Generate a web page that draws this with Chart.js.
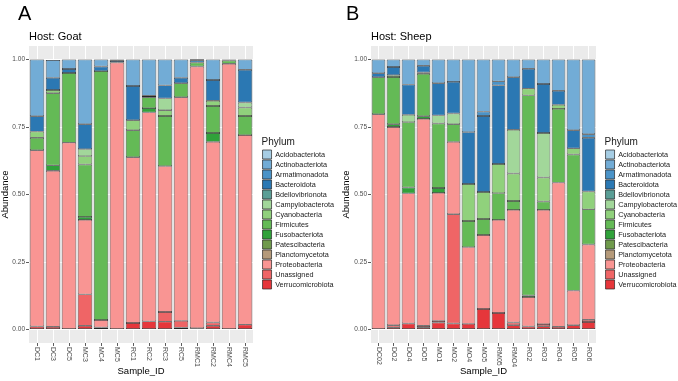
<!DOCTYPE html>
<html>
<head>
<meta charset="utf-8">
<script src="https://cdn.jsdelivr.net/npm/chart.js@4.4.1/dist/chart.umd.min.js"></script>
<style>
  body { margin: 0; background: #fff; overflow: hidden; }
  #wrap { position: relative; width: 678px; height: 381px; }
  canvas { position: absolute; top: 0; }
</style>
</head>
<body>
<div id="wrap">
  <canvas id="goatChart" width="344" height="381" style="left:0"></canvas>
  <canvas id="sheepChart" width="346" height="381" style="left:341px"></canvas>
</div>
<script>
const phyla = ["Acidobacteriota", "Actinobacteriota", "Armatimonadota", "Bacteroidota",
  "Bdellovibrionota", "Campylobacterota", "Cyanobacteria", "Firmicutes", "Fusobacteriota",
  "Patescibacteria", "Planctomycetota", "Proteobacteria", "Unassigned", "Verrucomicrobiota"];
const phylumColors = ["#a6cde4", "#72acd6", "#4a93c8", "#2b78b3", "#5a9e96", "#a2d79a",
  "#90d17c", "#64ba56", "#30a23a", "#6f9a4c", "#b59a7a", "#f99593", "#ef6566", "#e6363b"];
const yTicks = [0, 0.25, 0.5, 0.75, 1];

const goatSamples = ["DC1", "DC3", "DC5", "MC3", "MC4", "MC5", "RC1", "RC2", "RC3", "RC5", "RMC1", "RMC2", "RMC4", "RMC5"];
const goatAcidobacteriota = [0, 0, 0, 0, 0, 0, 0, 0, 0, 0, 0, 0, 0, 0];
const goatActinobacteriota = [0.21, 0.066, 0.035, 0.24, 0.026, 0.005, 0.098, 0.134, 0.096, 0.068, 0.004, 0.076, 0, 0.038];
const goatArmatimonadota = [0, 0, 0, 0, 0, 0, 0, 0, 0, 0, 0, 0, 0, 0];
const goatBacteroidota = [0.057, 0.045, 0.015, 0.092, 0.017, 0.006, 0.127, 0.006, 0.048, 0.02, 0.008, 0.077, 0.004, 0.121];
const goatBdellovibrionota = [0, 0, 0, 0, 0, 0, 0, 0, 0, 0, 0, 0, 0, 0];
const goatCampylobacterota = [0, 0, 0, 0.026, 0, 0, 0, 0, 0.044, 0, 0, 0, 0, 0.019];
const goatCyanobacteria = [0.023, 0.012, 0, 0.031, 0, 0, 0.037, 0, 0.021, 0, 0, 0.019, 0, 0.031];
const goatFirmicutes = [0.046, 0.267, 0.258, 0.194, 0.922, 0, 0.1, 0.04, 0.186, 0.052, 0.015, 0.1, 0.012, 0.071];
const goatFusobacteriota = [0, 0.02, 0, 0.011, 0, 0, 0, 0.016, 0, 0, 0, 0.033, 0, 0];
const goatPatescibacteria = [0, 0, 0, 0, 0, 0, 0, 0, 0, 0, 0, 0, 0, 0];
const goatPlanctomycetota = [0, 0, 0, 0, 0, 0, 0, 0, 0, 0, 0, 0, 0, 0];
const goatProteobacteria = [0.653, 0.578, 0.69, 0.276, 0.0275, 0.989, 0.614, 0.774, 0.54, 0.828, 0.969, 0.669, 0.984, 0.702];
const goatUnassigned = [0, 0, 0, 0.116, 0, 0, 0, 0, 0.036, 0.025, 0, 0.012, 0, 0];
const goatVerrucomicrobiota = [0.011, 0.01, 0.002, 0.014, 0.0075, 0, 0.024, 0.03, 0.029, 0.007, 0.005, 0.014, 0, 0.018];

const sheepSamples = ["DC02", "DO2", "DO4", "DO5", "MO1", "MO2", "MO4", "MO5", "RM05", "RMO4", "RO2", "RO3", "RO4", "RO5", "RO6"];
const sheepAcidobacteriota = [0, 0, 0, 0, 0, 0, 0, 0, 0, 0, 0, 0, 0, 0, 0];
const sheepActinobacteriota = [0.051, 0.028, 0.093, 0.023, 0.088, 0.083, 0.269, 0.193, 0.081, 0.066, 0.034, 0.091, 0.116, 0.262, 0.277];
const sheepArmatimonadota = [0, 0, 0, 0, 0, 0, 0, 0.016, 0.015, 0, 0, 0, 0, 0, 0.013];
const sheepBacteroidota = [0.015, 0.03, 0.112, 0.025, 0.119, 0.117, 0.192, 0.282, 0.291, 0.194, 0.074, 0.181, 0.052, 0.067, 0.199];
const sheepBdellovibrionota = [0, 0, 0, 0, 0, 0, 0, 0, 0, 0, 0, 0, 0, 0, 0];
const sheepCampylobacterota = [0, 0, 0.027, 0, 0.03, 0.04, 0, 0, 0, 0.162, 0, 0.165, 0, 0, 0];
const sheepCyanobacteria = [0, 0.007, 0, 0.005, 0, 0, 0.137, 0.1, 0.108, 0.102, 0.025, 0.089, 0.015, 0.023, 0.066];
const sheepFirmicutes = [0.137, 0.175, 0.242, 0.157, 0.239, 0.065, 0.097, 0.059, 0.099, 0.033, 0.741, 0.031, 0.273, 0.504, 0.13];
const sheepFusobacteriota = [0, 0.01, 0.022, 0.01, 0.018, 0, 0, 0, 0, 0, 0.006, 0, 0, 0, 0];
const sheepPatescibacteria = [0, 0, 0, 0, 0, 0, 0, 0, 0, 0, 0, 0, 0, 0, 0];
const sheepPlanctomycetota = [0, 0, 0, 0, 0, 0, 0, 0, 0, 0, 0, 0, 0, 0, 0];
const sheepProteobacteria = [0.797, 0.734, 0.482, 0.766, 0.474, 0.268, 0.284, 0.274, 0.345, 0.417, 0.109, 0.423, 0.534, 0.128, 0.279];
const sheepUnassigned = [0, 0.008, 0, 0.006, 0.006, 0.405, 0, 0, 0, 0.01, 0, 0.008, 0, 0, 0.008];
const sheepVerrucomicrobiota = [0, 0.008, 0.022, 0.008, 0.026, 0.022, 0.021, 0.076, 0.061, 0.016, 0.011, 0.012, 0.01, 0.016, 0.028];

const goatValues = [goatAcidobacteriota, goatActinobacteriota, goatArmatimonadota, goatBacteroidota,
  goatBdellovibrionota, goatCampylobacterota, goatCyanobacteria, goatFirmicutes, goatFusobacteriota,
  goatPatescibacteria, goatPlanctomycetota, goatProteobacteria, goatUnassigned, goatVerrucomicrobiota];
const sheepValues = [sheepAcidobacteriota, sheepActinobacteriota, sheepArmatimonadota, sheepBacteroidota,
  sheepBdellovibrionota, sheepCampylobacterota, sheepCyanobacteria, sheepFirmicutes, sheepFusobacteriota,
  sheepPatescibacteria, sheepPlanctomycetota, sheepProteobacteria, sheepUnassigned, sheepVerrucomicrobiota];

const FONT = '"Liberation Sans", Arial, sans-serif';
Chart.defaults.font.family = FONT;

// ggplot stacks the first level on top, chart.js stacks the first dataset at the bottom
function makeDatasets(values) {
  return phyla.map((name, i) => ({
    label: name,
    data: values[i],
    backgroundColor: phylumColors[i],
    borderColor: "#262626",
    borderWidth: 0.7,
    borderSkipped: false,
  })).reverse();
}

const panelBackground = {
  id: "panelBackground",
  beforeDraw(chart) {
    const { ctx, chartArea } = chart;
    ctx.save();
    ctx.fillStyle = "#ebebeb";
    ctx.fillRect(chartArea.left, chartArea.top, chartArea.width, chartArea.height);
    ctx.restore();
  },
};

const panelText = {
  id: "panelText",
  afterDraw(chart, args, opts) {
    const { ctx, chartArea } = chart;
    const xScale = chart.scales.x;
    ctx.save();
    ctx.fillStyle = "#000";
    ctx.textBaseline = "alphabetic";
    ctx.font = "20px " + FONT;
    ctx.fillText(opts.letter, opts.letterX, 19.5);
    ctx.font = "11px " + FONT;
    ctx.fillText(opts.title, chartArea.left, 40);
    // sample labels read top to bottom
    ctx.font = "7px " + FONT;
    ctx.fillStyle = "#4d4d4d";
    ctx.textBaseline = "middle";
    ctx.textAlign = "left";
    chart.data.labels.forEach((label, i) => {
      ctx.save();
      ctx.translate(xScale.getPixelForTick(i), xScale.top + 4);
      ctx.rotate(Math.PI / 2);
      ctx.fillText(label, 0, 0);
      ctx.restore();
    });
    ctx.restore();
  },
};

function makeConfig(labels, values, letter, letterX, title, yWidth) {
  return {
    type: "bar",
    data: { labels: labels, datasets: makeDatasets(values) },
    plugins: [panelBackground, panelText],
    options: {
      responsive: false,
      animation: false,
      layout: { padding: { top: 46, left: 0, right: 0, bottom: 0 } },
      datasets: { bar: { barPercentage: 0.9, categoryPercentage: 1 } },
      scales: {
        x: {
          stacked: true,
          grid: { offset: false, color: "#ffffff", lineWidth: 1, tickColor: "#333333", tickLength: 3, tickWidth: 0.8 },
          border: { display: false },
          ticks: { display: false },
          title: { display: true, text: "Sample_ID", color: "#000", font: { size: 9.5 }, padding: { top: 0, bottom: 4 } },
          afterFit(scale) { scale.height = 38; },
        },
        y: {
          stacked: true,
          min: -0.05,
          max: 1.05,
          grid: { color: "#ffffff", lineWidth: 1, tickColor: "#333333", tickLength: 3, tickWidth: 0.8 },
          border: { display: false },
          ticks: {
            autoSkip: false,
            padding: 1,
            color: "#4d4d4d",
            font: { size: 6.5 },
            callback: (v) => Number(v).toFixed(2),
          },
          afterBuildTicks(scale) { scale.ticks = yTicks.map((v) => ({ value: v })); },
          title: { display: true, text: "Abundance", color: "#000", font: { size: 9.5 }, padding: { top: 0, bottom: 0 } },
          afterFit(scale) { scale.width = yWidth; },
        },
        gap: {
          type: "linear",
          position: "right",
          display: true,
          grid: { display: false },
          ticks: { display: false },
          border: { display: false },
          afterFit(scale) { scale.width = 8.5; },
        },
      },
      plugins: {
        tooltip: { enabled: false },
        legend: {
          position: "right",
          reverse: true,
          maxWidth: 120,
          title: { display: true, text: "Phylum", position: "start", color: "#1a1a1a", font: { size: 10 }, padding: 0 },
          labels: { boxWidth: 9, boxHeight: 9, padding: 1, color: "#1a1a1a", font: { size: 7.25 } },
        },
        panelText: { letter: letter, letterX: letterX, title: title },
      },
    },
  };
}

new Chart(document.getElementById("goatChart"), makeConfig(goatSamples, goatValues, "A", 18, "Host: Goat", 29));
new Chart(document.getElementById("sheepChart"), makeConfig(sheepSamples, sheepValues, "B", 5, "Host: Sheep", 30));
</script>
</body>
</html>
